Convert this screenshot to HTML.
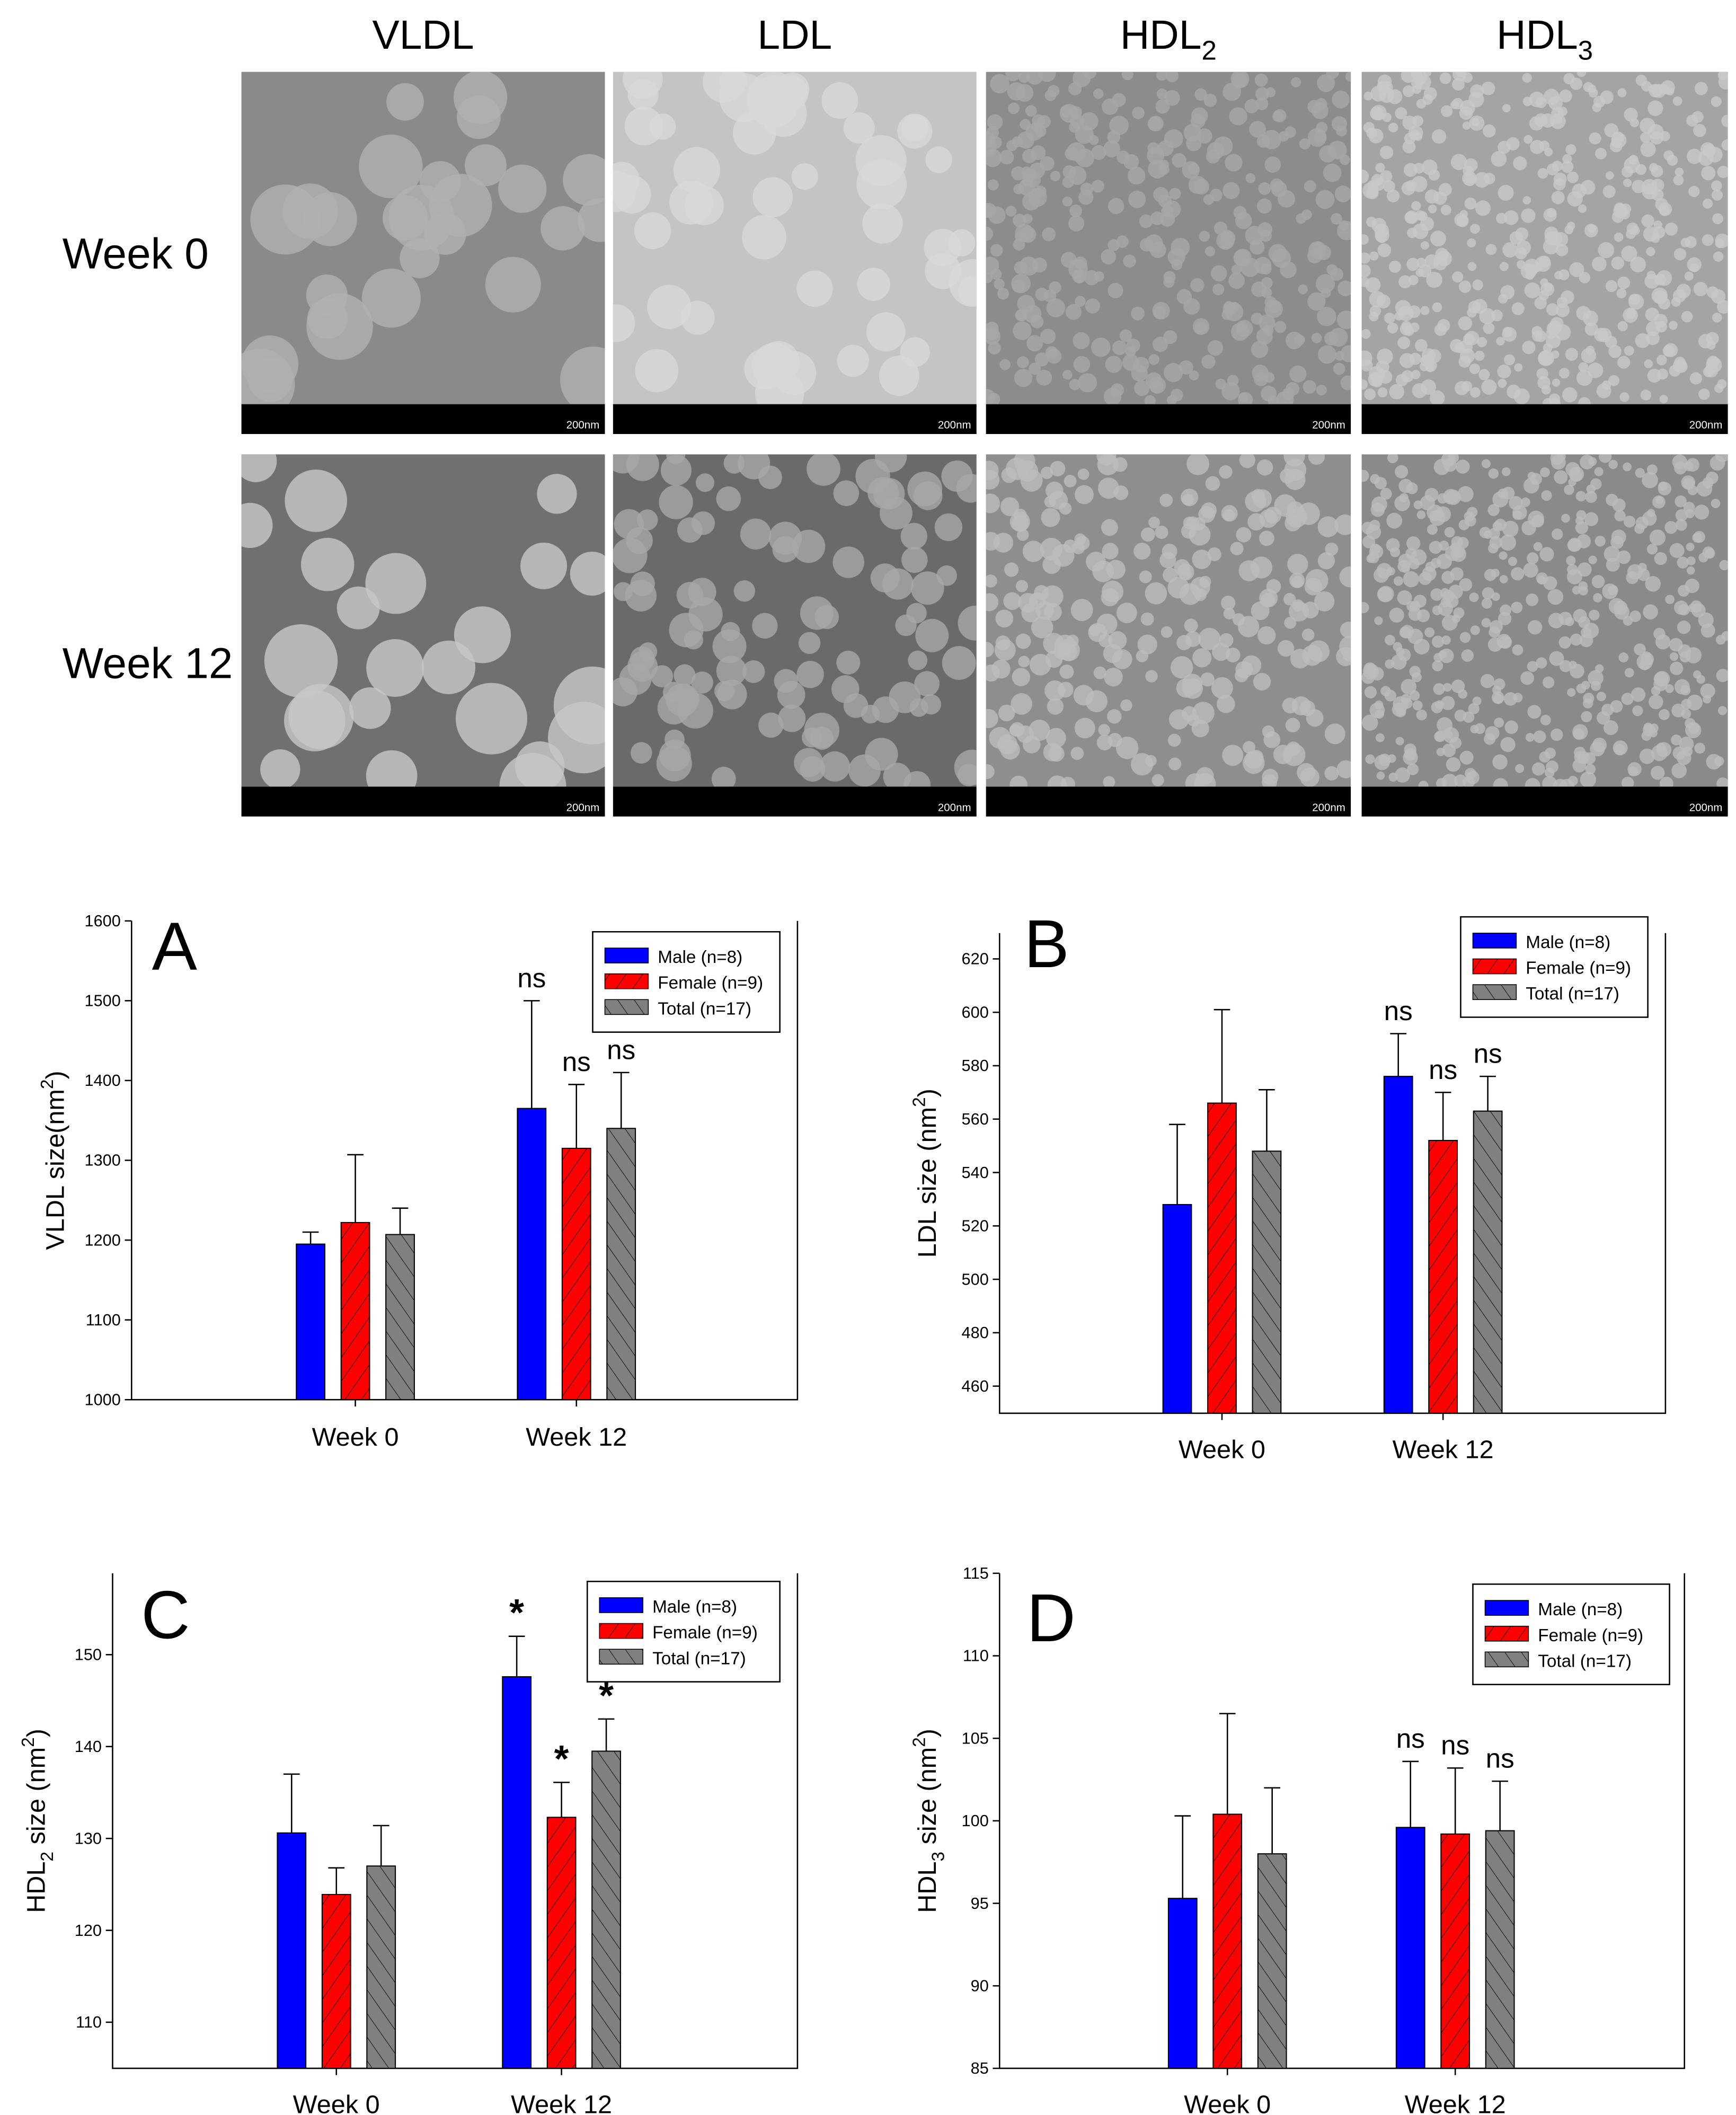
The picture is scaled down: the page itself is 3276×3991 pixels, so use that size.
<!DOCTYPE html>
<html><head><meta charset="utf-8"><style>
html,body{margin:0;padding:0;background:#fff}
svg{display:block}
text{font-family:"Liberation Sans",Arial,sans-serif}
</style></head><body>
<svg id="fig" width="3276" height="3991" viewBox="0 0 1280 1559.4" xmlns="http://www.w3.org/2000/svg">
<defs>
<pattern id="hatchR" patternUnits="userSpaceOnUse" width="10" height="10" patternTransform="rotate(35)"><rect width="10" height="10" fill="#ff0000"/><line x1="0" y1="0" x2="0" y2="10" stroke="#000" stroke-width="0.7"/></pattern>
<pattern id="hatchG" patternUnits="userSpaceOnUse" width="10" height="10" patternTransform="rotate(-35)"><rect width="10" height="10" fill="#808080"/><line x1="0" y1="0" x2="0" y2="10" stroke="#000" stroke-width="0.7"/></pattern>
</defs>
<g id="micro"></g>
<g id="charts"></g>
</svg>
<script>
// ===== Chart data =====
const groups = ["Week 0","Week 12"];
const seriesNames = ["Male (n=8)","Female (n=9)","Total (n=17)"];
const vldlMale=[1195,1365], vldlFemale=[1222,1315], vldlTotal=[1207,1340];
const vldlErrMale=[1210,1500], vldlErrFemale=[1307,1395], vldlErrTotal=[1240,1410];
const vldlTicks=[1000,1100,1200,1300,1400,1500,1600];
const ldlMale=[528,576], ldlFemale=[566,552], ldlTotal=[548,563];
const ldlErrMale=[558,592], ldlErrFemale=[601,570], ldlErrTotal=[571,576];
const ldlTicks=[460,480,500,520,540,560,580,600,620];
const hdl2Male=[130.6,147.6], hdl2Female=[123.9,132.3], hdl2Total=[127,139.5];
const hdl2ErrMale=[137,152], hdl2ErrFemale=[126.8,136.1], hdl2ErrTotal=[131.4,143];
const hdl2Ticks=[110,120,130,140,150];
const hdl3Male=[95.3,99.6], hdl3Female=[100.4,99.2], hdl3Total=[98,99.4];
const hdl3ErrMale=[100.3,103.6], hdl3ErrFemale=[106.5,103.2], hdl3ErrTotal=[102,102.4];
const hdl3Ticks=[85,90,95,100,105,110,115];

const NS="http://www.w3.org/2000/svg";
function mk(tag,attrs,parent){const e=document.createElementNS(NS,tag);for(const k in attrs)e.setAttribute(k,attrs[k]);if(parent)parent.appendChild(e);return e;}

// ===== Micrographs =====
const micro=document.getElementById('micro');
const cols=[[178,446],[452,720],[727,996],[1004,1274]];
const rows=[[53,320],[335,602]];
const bg=[["#8a8a8a","#c4c4c4","#8c8c8c","#a4a4a4"],["#707070","#6a6a6a","#8e8e8e","#8a8a8a"]];
const blob=[["#b0b0b0","#d8d8d8","#a8a8a8","#c8c8c8"],["#c8c8c8","#a8a8a8","#bdbdbd","#bbbbbb"]];
const blobR=[[22,16,6,5],[24,11,7,5]];
let seed=7;function rnd(){seed=(seed*9301+49297)%233280;return seed/233280;}
["VLDL","LDL","HDL","HDL"].forEach((t,i)=>{
  const tx=mk('text',{x:(cols[i][0]+cols[i][1])/2,y:36,'font-size':30,'text-anchor':'middle',fill:'#000'},micro);
  
  
  tx.textContent=t;
  if(i>=2){const s=mk('tspan',{'font-size':20,dy:8},tx);s.textContent=i==2?'2':'3';}
});
[["Week 0",198],["Week 12",500]].forEach((r,i)=>{
  const t=mk('text',{x:46,y:r[1],'font-size':32,fill:'#000'},micro);
  
  
  t.textContent=r[0];
});
rows.forEach((r,ri)=>cols.forEach((c,ci)=>{
  const g=mk('g',{},micro);
  
  
  const w=c[1]-c[0],h=r[1]-r[0]-22;
  mk('rect',{x:c[0],y:r[0],width:w,height:h,fill:bg[ri][ci]},g);
  const cp='cp'+ri+ci;const clip=mk('clipPath',{id:cp},g);mk('rect',{x:c[0],y:r[0],width:w,height:h},clip);
  const gg=mk('g',{'clip-path':'url(#'+cp+')'},g);
  const R=blobR[ri][ci];const n=Math.min(500,Math.round(w*h/(R*R*5)));
  for(let k=0;k<n;k++)mk('circle',{cx:c[0]+rnd()*w,cy:r[0]+rnd()*h,r:R*(0.6+rnd()*0.6),fill:blob[ri][ci],opacity:0.8},gg);
  mk('rect',{x:c[0],y:r[1]-22,width:w,height:22,fill:'#000'},g);
  const sb=mk('text',{x:c[1]-4,y:r[1]-4,'font-size':8,'text-anchor':'end',fill:'#fff'},g);sb.textContent='200nm';
}));

// ===== Bar panels =====
const charts=document.getElementById('charts');
function panel(o){
  const g=mk('g',{},charts);
  
  
  const y=v=>o.y0+(v-o.v0)*(o.y1-o.y0)/(o.v1-o.v0);
  // axes
  mk('path',{d:`M${o.x0} ${o.top}V${o.bot}H${o.x1}V${o.top}`,fill:'none',stroke:'#000','stroke-width':1},g);
  o.ticks.forEach(t=>{
    mk('line',{x1:o.x0,x2:o.x0-5,y1:y(t),y2:y(t),stroke:'#000'},g);
    const tl=mk('text',{x:o.x0-8,y:y(t)+4,'font-size':12,'text-anchor':'end'},g);
    
    
    tl.textContent=t;
  });
  const yt=mk('text',{transform:`translate(${o.ytx},${(o.top+o.bot)/2}) rotate(-90)`,'font-size':19,'text-anchor':'middle'},g);
  
  
  yt.innerHTML=o.ytitle;
  const lt=mk('text',{x:o.lx,y:o.ly,'font-size':50},g);
  
  
  lt.textContent=o.letter;
  const fills=['#0000ff','url(#hatchR)','url(#hatchG)'];
  const bw=21,step=33;
  groups.forEach((gn,gi)=>{
    const cx=o.gx[gi];
    mk('line',{x1:cx,x2:cx,y1:o.bot,y2:o.bot+5,stroke:'#000'},g);
    const xl=mk('text',{x:cx,y:o.xly,'font-size':19,'text-anchor':'middle'},g);
    
    
    xl.textContent=gn;
    o.vals.forEach((arr,si)=>{
      const bx=cx+(si-1)*step-bw/2;
      const ev=o.errs[si][gi];
      mk('line',{x1:bx+bw/2,x2:bx+bw/2,y1:y(arr[gi]),y2:y(ev),stroke:'#000'},g);
      mk('line',{x1:bx+bw/2-6,x2:bx+bw/2+6,y1:y(ev),y2:y(ev),stroke:'#000'},g);
      const b=mk('rect',{x:bx,y:y(arr[gi]),width:bw,height:o.bot-y(arr[gi]),fill:fills[si],stroke:'#000','stroke-width':0.8},g);
      
      
      if(gi==1){
        const star=o.sig=='*';
        const s=mk('text',{x:bx+bw/2,y:y(ev)-(star?8:10),'font-size':star?28:20,'font-weight':star?'bold':'normal','text-anchor':'middle'},g);
        
        
        s.textContent=o.sig;
      }
    });
  });
  const lg=mk('g',{},g);
  
  
  mk('rect',{x:o.lgx,y:o.lgy,width:o.lgw,height:74,fill:'#fff',stroke:'#000'},lg);
  seriesNames.forEach((sn,si)=>{
    const ey=o.lgy+18+si*19;
    mk('rect',{x:o.lgx+9,y:ey-6,width:32,height:11,fill:fills[si],stroke:'#000','stroke-width':0.6},lg);
    const t=mk('text',{x:o.lgx+48,y:ey+5,'font-size':13},lg);
    
    
    t.textContent=sn;
  });
}
panel({name:'panel-a-vldl',letter:'A',lx:112,ly:715,x0:97,x1:588,top:679,bot:1032,v0:1000,v1:1600,y0:1032,y1:679,ticks:vldlTicks,
  vals:[vldlMale,vldlFemale,vldlTotal],errs:[vldlErrMale,vldlErrFemale,vldlErrTotal],gx:[262,425],xly:1066,ytx:47,
  ytitle:'VLDL size(nm<tspan font-size="13" dy="-8">2</tspan><tspan dy="8">)</tspan>',sig:'ns',lgx:437,lgy:687,lgw:138});
panel({name:'panel-b-ldl',letter:'B',lx:755,ly:713,x0:737,x1:1228,top:688,bot:1042,v0:460,v1:620,y0:1022,y1:707,ticks:ldlTicks,
  vals:[ldlMale,ldlFemale,ldlTotal],errs:[ldlErrMale,ldlErrFemale,ldlErrTotal],gx:[901,1064],xly:1075,ytx:690,
  ytitle:'LDL size (nm<tspan font-size="13" dy="-8">2</tspan><tspan dy="8">)</tspan>',sig:'ns',lgx:1077,lgy:676,lgw:138});
panel({name:'panel-c-hdl2',letter:'C',lx:104,ly:1208,x0:83,x1:588,top:1160,bot:1525,v0:110,v1:150,y0:1491,y1:1220,ticks:hdl2Ticks,
  vals:[hdl2Male,hdl2Female,hdl2Total],errs:[hdl2ErrMale,hdl2ErrFemale,hdl2ErrTotal],gx:[248,414],xly:1558,ytx:33,
  ytitle:'HDL<tspan font-size="13" dy="6">2</tspan><tspan dy="-6"> size (nm</tspan><tspan font-size="13" dy="-8">2</tspan><tspan dy="8">)</tspan>',sig:'*',lgx:433,lgy:1166,lgw:142});
panel({name:'panel-d-hdl3',letter:'D',lx:757,ly:1210,x0:737,x1:1242,top:1160,bot:1525,v0:85,v1:115,y0:1525,y1:1160,ticks:hdl3Ticks,
  vals:[hdl3Male,hdl3Female,hdl3Total],errs:[hdl3ErrMale,hdl3ErrFemale,hdl3ErrTotal],gx:[905,1073],xly:1558,ytx:690,
  ytitle:'HDL<tspan font-size="13" dy="6">3</tspan><tspan dy="-6"> size (nm</tspan><tspan font-size="13" dy="-8">2</tspan><tspan dy="8">)</tspan>',sig:'ns',lgx:1086,lgy:1168,lgw:145});
</script>
</body></html>
